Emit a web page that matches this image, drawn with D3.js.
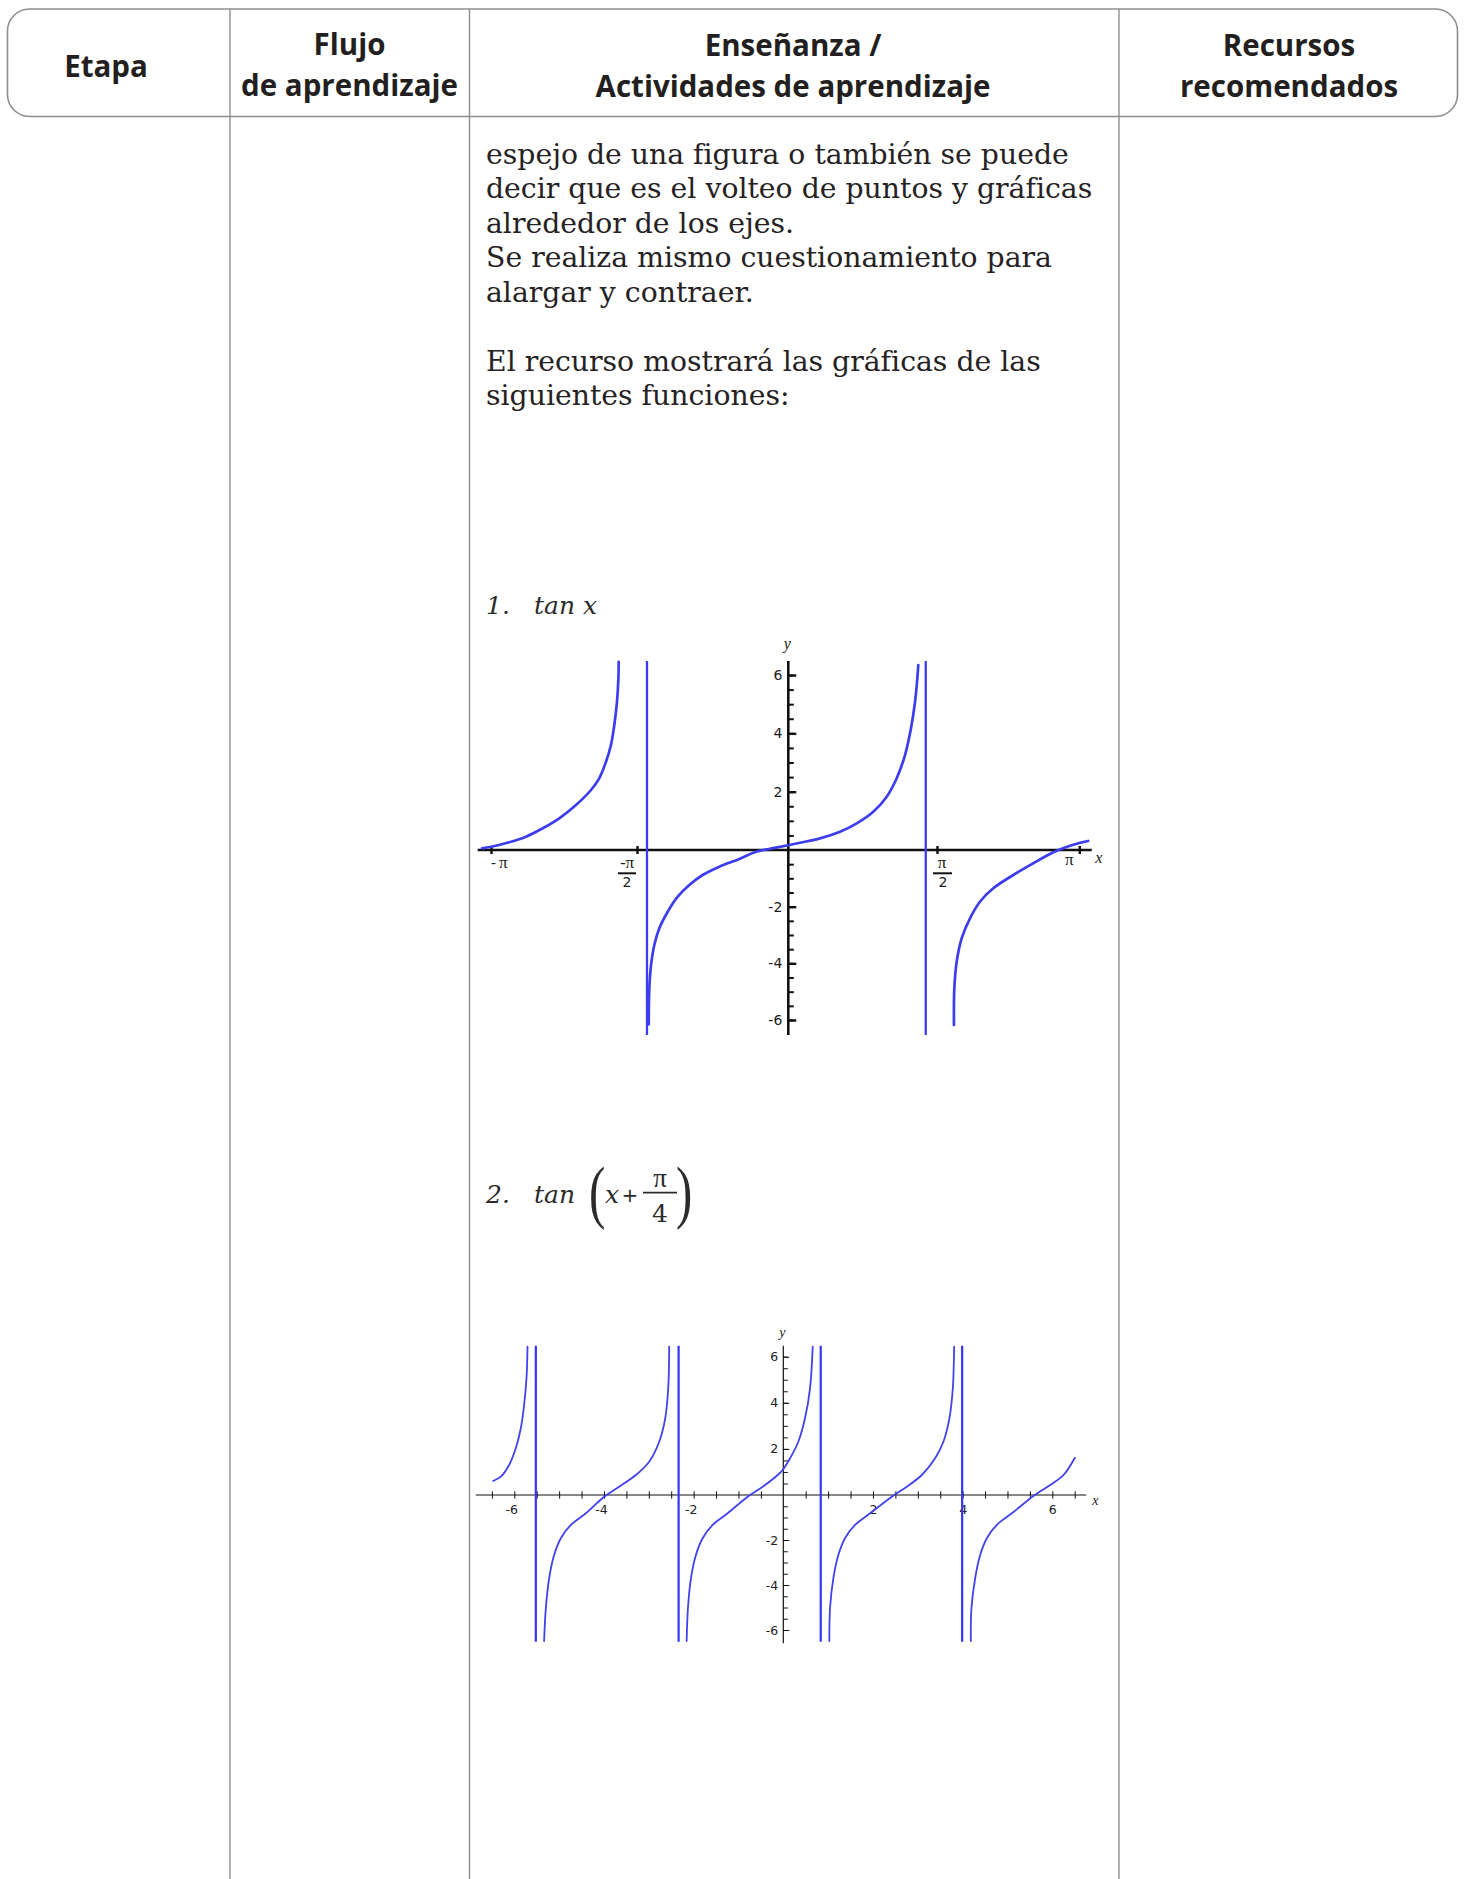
<!DOCTYPE html>
<html lang="es">
<head>
<meta charset="utf-8">
<title>Gráficas de la función tangente</title>
<script src="https://cdn.jsdelivr.net/npm/d3@7/dist/d3.min.js"></script>
<style>
  html, body { margin: 0; padding: 0; background: #fff; }
  svg { display: block; }
</style>
</head>
<body>
<svg id="page" width="1465" height="1879"></svg>
<script>
// ---------- table content ----------
const headerLabels = [
  ["Etapa"],
  ["Flujo", "de aprendizaje"],
  ["Enseñanza /", "Actividades de aprendizaje"],
  ["Recursos", "recomendados"]
];
const paragraphLines = [
  "espejo de una figura o también se puede",
  "decir que es el volteo de puntos y gráficas",
  "alrededor de los ejes.",
  "Se realiza mismo cuestionamiento para",
  "alargar y contraer.",
  "",
  "El recurso mostrará las gráficas de las",
  "siguientes funciones:"
];

// ---------- graph 1: tan x, branches as (x, y) points ----------
const tanLeft = [
  [-3.238, 0.058], [-3.088, 0.147], [-2.945, 0.264], [-2.765, 0.456], [-2.585, 0.744],
  [-2.407, 1.087], [-2.227, 1.543], [-2.066, 2.057], [-1.977, 2.458], [-1.904, 3.027],
  [-1.851, 3.600], [-1.815, 4.285], [-1.786, 5.084], [-1.771, 5.886], [-1.768, 6.455]
];
const tanMiddle = [
  [-1.449, -6.152], [-1.443, -4.882], [-1.425, -4.059], [-1.391, -3.353], [-1.339, -2.764],
  [-1.252, -2.178], [-1.148, -1.648], [-1.028, -1.235], [-0.889, -0.882], [-0.716, -0.589],
  [-0.509, -0.318], [-0.335, -0.060], [-0.128, 0.079], [0.124, 0.250], [0.335, 0.400],
  [0.546, 0.627], [0.723, 0.915], [0.898, 1.313], [1.040, 1.827], [1.145, 2.458],
  [1.233, 3.257], [1.296, 4.172], [1.339, 5.084], [1.363, 5.886], [1.373, 6.342]
];
const tanRight = [
  [1.758, -6.177], [1.762, -4.882], [1.788, -3.943], [1.843, -3.117], [1.935, -2.411],
  [2.045, -1.825], [2.192, -1.352], [2.413, -0.882], [2.634, -0.469], [2.855, -0.081],
  [3.039, 0.147], [3.239, 0.309]
];
const tanBreaks = [-1.467, 1.452];
const tanYLabels = [-6, -4, -2, 2, 4, 6];
const tanXTicks = [-Math.PI, -Math.PI / 2, Math.PI / 2, Math.PI];

// ---------- graph 2: tan(x + π/4), branches as (x, y) points ----------
const shiftA = [
  [-6.473, 0.607], [-6.301, 0.794], [-6.116, 1.302], [-5.967, 2.026], [-5.855, 2.894],
  [-5.781, 3.905], [-5.728, 5.063], [-5.705, 6.434]
];
const shiftB = [
  [-5.335, -6.489], [-5.297, -5.036], [-5.223, -3.702], [-5.112, -2.667], [-4.962, -1.924],
  [-4.739, -1.333], [-4.404, -0.813], [-4.009, -0.102], [-3.661, 0.360], [-3.288, 0.868],
  [-2.991, 1.445], [-2.768, 2.312], [-2.634, 3.328], [-2.567, 4.629], [-2.545, 6.434]
];
const shiftC = [
  [-2.156, -6.489], [-2.127, -5.036], [-2.060, -3.702], [-1.949, -2.667], [-1.799, -1.924],
  [-1.576, -1.333], [-1.241, -0.813], [-0.795, -0.074], [-0.460, 0.360], [-0.125, 0.868],
  [0.000, 1.120], [0.150, 1.592], [0.335, 2.312], [0.484, 3.328], [0.596, 4.629], [0.656, 6.434]
];
const shiftD = [
  [1.027, -6.489], [1.042, -5.036], [1.116, -3.702], [1.228, -2.667], [1.377, -1.924],
  [1.600, -1.333], [1.935, -0.813], [2.420, -0.074], [2.754, 0.360], [3.089, 0.868],
  [3.386, 1.592], [3.571, 2.312], [3.705, 3.328], [3.781, 4.629], [3.810, 6.434]
];
const shiftE = [
  [4.183, -6.489], [4.196, -5.036], [4.279, -3.702], [4.391, -2.667], [4.540, -1.924],
  [4.763, -1.333], [5.098, -0.813], [5.580, -0.043], [5.953, 0.434], [6.250, 0.868],
  [6.504, 1.618]
];
const shiftBreaks = [-5.520, -2.335, 0.835, 3.989];
const shiftXLabels = [-6, -4, -2, 2, 4, 6];
const shiftYLabels = [-6, -4, -2, 2, 4, 6];
const shiftXTicks = [-6.5, -6, -5.5, -5, -4.5, -4, -3.5, -3, -2.5, -2, -1.5, -1, -0.5,
                     0.5, 1, 1.5, 2, 2.5, 3, 3.5, 4, 4.5, 5, 5.5, 6, 6.5];

// ---------- page ----------
const svg = d3.select("#page");
const INK = "#231f20";
const RULE = "#8e8e8e";
const BLUE = "#3d3df0";
const PI_FONT = "'Liberation Serif', 'DejaVu Serif', serif";

// table frame: rounded header band and column rules
const cols = [7.5, 230, 469.5, 1119, 1457.5];
const headTop = 9, headBottom = 116.5;

svg.append("rect")
  .attr("x", cols[0]).attr("y", headTop)
  .attr("width", cols[4] - cols[0]).attr("height", headBottom - headTop)
  .attr("rx", 22).attr("ry", 22)
  .attr("fill", "#fff").attr("stroke", RULE).attr("stroke-width", 1.6);

svg.selectAll("line.col")
  .data(cols.slice(1, 4))
  .join("line")
  .attr("class", "col")
  .attr("x1", d => d).attr("x2", d => d)
  .attr("y1", headTop).attr("y2", 1879)
  .attr("stroke", RULE).attr("stroke-width", 1.4);

// header labels: one text per cell, one tspan per line
const headBaselines = [[77], [55, 96], [56, 97], [56, 97]];
const headCenters = [106, 349.5, 793, 1289];
const head = svg.append("g")
  .attr("font-family", "'Open Sans', 'Noto Sans', sans-serif")
  .attr("font-weight", 700).attr("font-size", 29.5).attr("fill", INK)
  .attr("text-anchor", "middle");
headerLabels.forEach((lines, i) => {
  const t = head.append("text");
  lines.forEach((s, j) => {
    t.append("tspan")
      .attr("x", headCenters[i]).attr("y", headBaselines[i][j])
      .text(s);
  });
});

// paragraph in the teaching column
svg.append("g")
  .attr("font-family", "'DejaVu Serif', serif").attr("font-size", 28.3).attr("fill", "#262223")
  .selectAll("text")
  .data(paragraphLines)
  .join("text")
  .attr("x", 486)
  .attr("y", (d, i) => 164 + i * 34.43)
  .text(d => d);

// item captions
const cap = svg.append("g")
  .attr("font-family", "'DejaVu Serif', serif").attr("font-style", "italic")
  .attr("font-size", 25).attr("fill", "#2b2b2b");
cap.append("text").attr("x", 486).attr("y", 614).text("1.");
cap.append("text").attr("x", 534).attr("y", 614).text("tan x");

cap.append("text").attr("x", 486).attr("y", 1203).text("2.");
cap.append("text").attr("x", 534).attr("y", 1203).text("tan");
cap.append("text").attr("x", 589).attr("y", 1215)
  .attr("font-family", "'Liberation Serif', serif").attr("font-style", "normal")
  .attr("font-size", 70).attr("transform", "translate(589,1215) scale(0.7,1) translate(-589,-1215)")
  .text("(");
cap.append("text").attr("x", 605).attr("y", 1203).text("x");
cap.append("text").attr("x", 630).attr("y", 1202).attr("text-anchor", "middle")
  .attr("font-style", "normal").attr("font-family", "'DejaVu Sans', sans-serif")
  .attr("font-size", 20).text("+");
cap.append("text").attr("x", 660).attr("y", 1187).attr("text-anchor", "middle")
  .attr("font-style", "normal").attr("font-family", PI_FONT).attr("font-size", 27).text("π");
cap.append("line").attr("x1", 643).attr("x2", 677).attr("y1", 1192.7).attr("y2", 1192.7)
  .attr("stroke", "#2b2b2b").attr("stroke-width", 1.8);
cap.append("text").attr("x", 660).attr("y", 1221.5).attr("text-anchor", "middle")
  .attr("font-style", "normal").attr("font-size", 25).text("4");
cap.append("text").attr("x", 676).attr("y", 1215)
  .attr("font-family", "'Liberation Serif', serif").attr("font-style", "normal")
  .attr("font-size", 70).attr("transform", "translate(676,1215) scale(0.7,1) translate(-676,-1215)")
  .text(")");

// ---------- graph 1 ----------
const x1 = d3.scaleLinear()
  .domain([-Math.PI, -Math.PI / 2, 0, Math.PI / 2, Math.PI])
  .range([491, 637, 788.3, 937, 1079.3]);
const y1 = d3.scaleLinear().domain([-6, 0, 6]).range([1020, 850, 675]);
const g1 = svg.append("g");

// axes lines
g1.append("line")
  .attr("x1", x1(-3.285)).attr("x2", x1(3.279)).attr("y1", y1(0)).attr("y2", y1(0))
  .attr("stroke", "#111").attr("stroke-width", 2.6);
g1.append("line")
  .attr("x1", x1(0)).attr("x2", x1(0)).attr("y1", y1(6.48)).attr("y2", y1(-6.53))
  .attr("stroke", "#111").attr("stroke-width", 2.6);

// y ticks to the right of the axis, labels to the left
function cleanAxis(sel, color, width) {
  sel.select(".domain").remove();
  sel.selectAll(".tick line").attr("stroke", color).attr("stroke-width", width);
}
g1.append("g").attr("transform", `translate(${x1(0)},0)`)
  .call(d3.axisRight(y1).tickValues(y1.ticks(24).filter(v => v !== 0)).tickSize(5.5).tickFormat(""))
  .call(cleanAxis, "#111", 2);
g1.append("g").attr("transform", `translate(${x1(0)},0)`)
  .call(d3.axisRight(y1).tickValues(tanYLabels).tickSize(8).tickFormat(""))
  .call(cleanAxis, "#111", 2.4);
g1.append("g").attr("transform", `translate(${x1(0)},0)`)
  .call(d3.axisLeft(y1).tickValues(tanYLabels).tickSize(0).tickPadding(6).tickFormat(d => String(d)))
  .call(g => g.select(".domain").remove())
  .call(g => g.selectAll("text").attr("font-family", "'DejaVu Sans', sans-serif")
    .attr("font-size", 14).attr("fill", "#1a1a1a"));

// x ticks: crosses at multiples of π/2
g1.append("g").attr("transform", `translate(0,${y1(0) - 4})`)
  .call(d3.axisBottom(x1).tickValues(tanXTicks).tickSize(8).tickFormat(""))
  .call(cleanAxis, "#111", 2.4);

// x tick labels in terms of π
const lab1 = g1.append("g").attr("fill", "#1a1a1a");
lab1.append("text").attr("x", x1(-Math.PI)).attr("y", 868)
  .attr("font-family", "'DejaVu Sans', sans-serif").attr("font-size", 14).text("-");
lab1.append("text").attr("x", x1(-Math.PI) + 8).attr("y", 868)
  .attr("font-family", PI_FONT).attr("font-size", 17).text("π");
lab1.append("text").attr("x", x1(-Math.PI / 2) - 10).attr("y", 868).attr("text-anchor", "middle")
  .attr("font-family", PI_FONT).attr("font-size", 17).text("-π");
lab1.append("line").attr("x1", x1(-Math.PI / 2) - 19).attr("x2", x1(-Math.PI / 2) - 1)
  .attr("y1", 873.3).attr("y2", 873.3).attr("stroke", "#111").attr("stroke-width", 2);
lab1.append("text").attr("x", x1(-Math.PI / 2) - 10).attr("y", 887).attr("text-anchor", "middle")
  .attr("font-family", "'DejaVu Sans', sans-serif").attr("font-size", 14).text("2");
lab1.append("text").attr("x", x1(Math.PI / 2) + 5).attr("y", 868).attr("text-anchor", "middle")
  .attr("font-family", PI_FONT).attr("font-size", 17).text("π");
lab1.append("line").attr("x1", x1(Math.PI / 2) - 4).attr("x2", x1(Math.PI / 2) + 15)
  .attr("y1", 873.3).attr("y2", 873.3).attr("stroke", "#111").attr("stroke-width", 2);
lab1.append("text").attr("x", x1(Math.PI / 2) + 6).attr("y", 887).attr("text-anchor", "middle")
  .attr("font-family", "'DejaVu Sans', sans-serif").attr("font-size", 14).text("2");
lab1.append("text").attr("x", x1(Math.PI) - 10).attr("y", 865).attr("text-anchor", "middle")
  .attr("font-family", PI_FONT).attr("font-size", 17).text("π");
lab1.append("text").attr("x", x1(Math.PI) + 16).attr("y", 863)
  .attr("font-family", "'Liberation Serif', serif").attr("font-style", "italic")
  .attr("font-size", 16).text("x");
lab1.append("text").attr("x", x1(0) - 1).attr("y", 649).attr("text-anchor", "middle")
  .attr("font-family", "'Liberation Serif', serif").attr("font-style", "italic")
  .attr("font-size", 16).text("y");

// asymptote segments and curve branches
g1.selectAll("line.break")
  .data(tanBreaks)
  .join("line").attr("class", "break")
  .attr("x1", d => x1(d)).attr("x2", d => x1(d))
  .attr("y1", y1(6.48)).attr("y2", y1(-6.53))
  .attr("stroke", BLUE).attr("stroke-width", 2.3);
const line1 = d3.line().x(d => x1(d[0])).y(d => y1(d[1])).curve(d3.curveCatmullRom.alpha(0.5));
g1.selectAll("path.branch")
  .data([tanLeft, tanMiddle, tanRight])
  .join("path").attr("class", "branch")
  .attr("d", line1)
  .attr("fill", "none").attr("stroke", BLUE).attr("stroke-width", 2.7)
  .attr("stroke-linecap", "round");

// ---------- graph 2 ----------
const x2 = d3.scaleLinear().domain([-6, 6]).range([514.3, 1052.3]);
const y2 = d3.scaleLinear().domain([-6, 0, 6]).range([1630, 1495, 1356.7]);
const g2 = svg.append("g");

g2.append("line")
  .attr("x1", x2(-6.86)).attr("x2", x2(6.757)).attr("y1", y2(0)).attr("y2", y2(0))
  .attr("stroke", "#111").attr("stroke-width", 1.2);
g2.append("line")
  .attr("x1", x2(0)).attr("x2", x2(0)).attr("y1", y2(6.477)).attr("y2", y2(-6.59))
  .attr("stroke", "#111").attr("stroke-width", 1.2);

g2.append("g").attr("transform", `translate(${x2(0)},0)`)
  .call(d3.axisRight(y2).tickValues(y2.ticks(24).filter(v => v !== 0)).tickSize(4.5).tickFormat(""))
  .call(cleanAxis, "#111", 1);
g2.append("g").attr("transform", `translate(${x2(0)},0)`)
  .call(d3.axisRight(y2).tickValues(shiftYLabels).tickSize(6).tickFormat(""))
  .call(cleanAxis, "#111", 1);
g2.append("g").attr("transform", `translate(${x2(0)},0)`)
  .call(d3.axisLeft(y2).tickValues(shiftYLabels).tickSize(0).tickPadding(5).tickFormat(d => String(d)))
  .call(g => g.select(".domain").remove())
  .call(g => g.selectAll("text").attr("font-family", "'DejaVu Sans', sans-serif")
    .attr("font-size", 12.5).attr("fill", "#222"));

g2.append("g").attr("transform", `translate(0,${y2(0) - 3.7})`)
  .call(d3.axisBottom(x2).tickValues(shiftXTicks).tickSize(7.4).tickFormat(""))
  .call(cleanAxis, "#111", 1);
g2.append("g").attr("transform", `translate(0,${y2(0)})`)
  .call(d3.axisBottom(x2).tickValues(shiftXLabels).tickSize(0).tickPadding(10).tickFormat(d => String(d)))
  .call(g => g.select(".domain").remove())
  .call(g => g.selectAll("text").attr("font-family", "'DejaVu Sans', sans-serif")
    .attr("font-size", 12.5).attr("fill", "#222").attr("dx", d => d < 0 ? -3 : 0));

g2.append("text").attr("x", x2(6.757) + 6).attr("y", 1505)
  .attr("font-family", "'Liberation Serif', serif").attr("font-style", "italic")
  .attr("font-size", 14).attr("fill", "#222").text("x");
g2.append("text").attr("x", x2(0) - 1).attr("y", 1337).attr("text-anchor", "middle")
  .attr("font-family", "'Liberation Serif', serif").attr("font-style", "italic")
  .attr("font-size", 14).attr("fill", "#222").text("y");

g2.selectAll("line.break")
  .data(shiftBreaks)
  .join("line").attr("class", "break")
  .attr("x1", d => x2(d)).attr("x2", d => x2(d))
  .attr("y1", y2(6.477)).attr("y2", y2(-6.52))
  .attr("stroke", "#3535f5").attr("stroke-width", 2.2);
const line2 = d3.line().x(d => x2(d[0])).y(d => y2(d[1])).curve(d3.curveCatmullRom.alpha(0.5));
g2.selectAll("path.branch")
  .data([shiftA, shiftB, shiftC, shiftD, shiftE])
  .join("path").attr("class", "branch")
  .attr("d", line2)
  .attr("fill", "none").attr("stroke", "#4242ea").attr("stroke-width", 1.8)
  .attr("stroke-linecap", "round");
</script>
</body>
</html>
